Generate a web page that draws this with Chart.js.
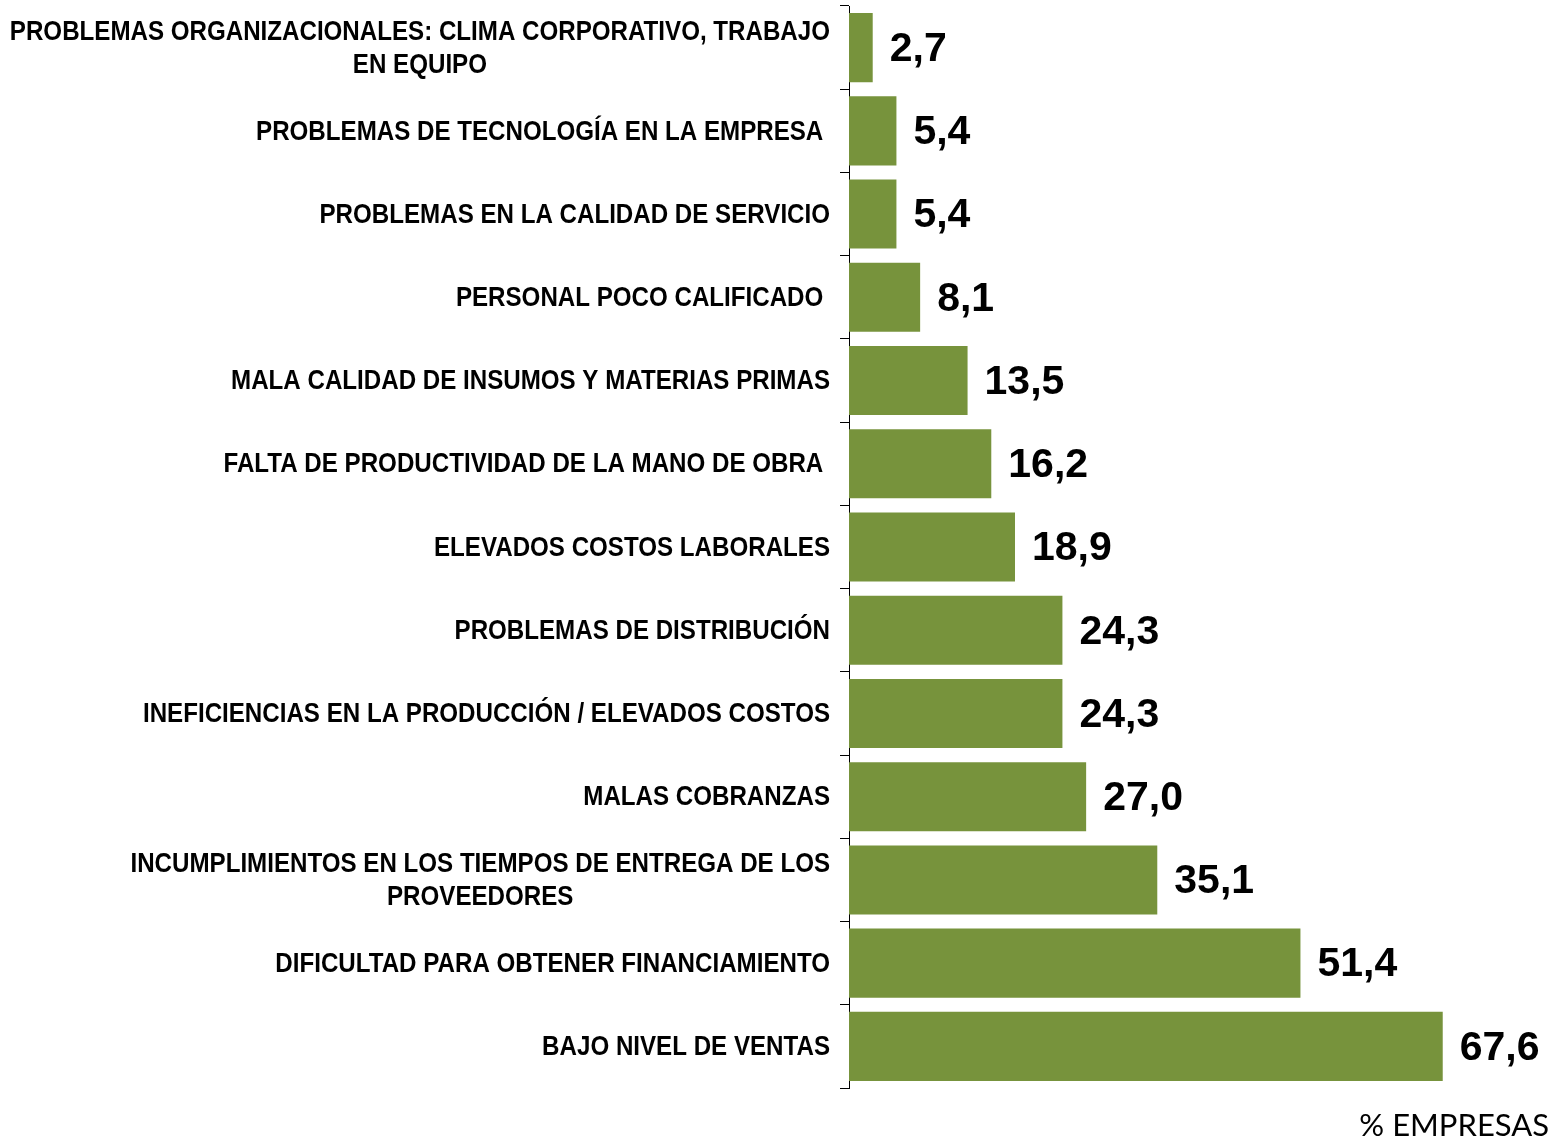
<!DOCTYPE html>
<html>
<head>
<meta charset="utf-8">
<script src="https://cdn.jsdelivr.net/npm/chart.js@4/dist/chart.umd.min.js"></script>
<style>
    html, body { margin: 0; padding: 0; background: #fff; }
    #wrap { width: 1554px; height: 1141px; position: relative; }
</style>
</head>
<body>
<div id="wrap"><canvas id="problemsChart"></canvas></div>
<script>
const categories = [
    ['PROBLEMAS ORGANIZACIONALES: CLIMA CORPORATIVO, TRABAJO', 'EN EQUIPO'],
    'PROBLEMAS DE TECNOLOGÍA EN LA EMPRESA ',
    'PROBLEMAS EN LA CALIDAD DE SERVICIO',
    'PERSONAL POCO CALIFICADO ',
    'MALA CALIDAD DE INSUMOS Y MATERIAS PRIMAS',
    'FALTA DE PRODUCTIVIDAD DE LA MANO DE OBRA ',
    'ELEVADOS COSTOS LABORALES',
    'PROBLEMAS DE DISTRIBUCIÓN',
    'INEFICIENCIAS EN LA PRODUCCIÓN / ELEVADOS COSTOS',
    'MALAS COBRANZAS',
    ['INCUMPLIMIENTOS EN LOS TIEMPOS DE ENTREGA DE LOS', 'PROVEEDORES'],
    'DIFICULTAD PARA OBTENER FINANCIAMIENTO',
    'BAJO NIVEL DE VENTAS'
];
const values = [2.7, 5.4, 5.4, 8.1, 13.5, 16.2, 18.9, 24.3, 24.3, 27.0, 35.1, 51.4, 67.6];
const axisTitle = '% EMPRESAS';

// no Arial Narrow here, so squeeze Liberation Sans bold horizontally
const LABEL_FONT = 'bold 28px "Liberation Sans", Arial, sans-serif';
const NARROW = 0.862;
const VALUE_FONT = 'bold 41px "Liberation Sans", Arial, sans-serif';

// category labels: block right-aligned, lines centred inside the block
const categoryLabels = {
    id: 'categoryLabels',
    afterDraw(chart) {
        const { ctx } = chart;
        const y = chart.scales.y;
        const right = y.right - 19;
        ctx.save();
        ctx.font = LABEL_FONT;
        ctx.fillStyle = '#000';
        ctx.textAlign = 'left';
        ctx.textBaseline = 'middle';
        categories.forEach((lab, i) => {
            const lines = Array.isArray(lab) ? lab : [lab];
            const widths = lines.map(l => ctx.measureText(l).width * NARROW);
            const widest = Math.max(...widths);
            const yc = y.getPixelForValue(i);
            lines.forEach((line, j) => {
                const yy = yc + (j - (lines.length - 1) / 2) * 33;
                ctx.save();
                ctx.translate(right - widest + (widest - widths[j]) / 2, yy + 1);
                ctx.scale(NARROW, 1);
                ctx.fillText(line, 0, 0);
                ctx.restore();
            });
        });
        ctx.restore();
    }
};

const valueLabels = {
    id: 'valueLabels',
    afterDatasetsDraw(chart) {
        const { ctx } = chart;
        const meta = chart.getDatasetMeta(0);
        ctx.save();
        ctx.font = VALUE_FONT;
        ctx.fillStyle = '#000';
        ctx.textAlign = 'left';
        ctx.textBaseline = 'middle';
        meta.data.forEach((bar, i) => {
            ctx.fillText(values[i].toFixed(1).replace('.', ','), bar.x + 17, bar.y + 2);
        });
        ctx.restore();
    }
};

new Chart(document.getElementById('problemsChart'), {
    type: 'bar',
    data: {
        labels: categories,
        datasets: [{
            data: values,
            backgroundColor: '#77933C',
            borderWidth: 0,
            barPercentage: 0.83,
            categoryPercentage: 1
        }]
    },
    options: {
        indexAxis: 'y',
        responsive: true,
        maintainAspectRatio: false,
        animation: false,
        layout: { padding: { top: 6, right: 5, left: 0, bottom: 0 } },
        plugins: {
            legend: { display: false },
            tooltip: { enabled: false },
            title: {
                display: true,
                text: axisTitle,
                position: 'bottom',
                align: 'end',
                color: '#000',
                font: { family: 'Lato, "Open Sans", sans-serif', size: 31, weight: 'normal', lineHeight: 1 },
                padding: { top: 22, bottom: 0 }
            }
        },
        scales: {
            x: { display: false, min: 0, max: 79.7 },
            y: {
                position: 'left',
                grid: { drawOnChartArea: false, tickLength: 9, tickColor: '#000', color: '#000', offset: true },
                border: { color: '#000', width: 1 },
                ticks: { display: false },
                afterFit: s => { s.width = 849; }
            }
        }
    },
    plugins: [categoryLabels, valueLabels]
});
</script>
</body>
</html>
